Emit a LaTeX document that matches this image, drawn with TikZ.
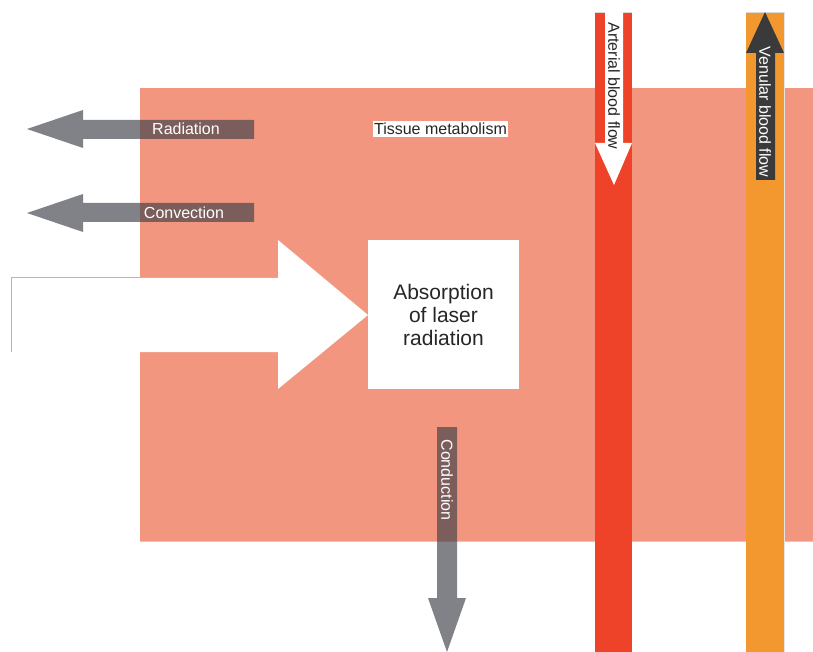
\documentclass[tikz,border=0pt]{standalone}
\usepackage{fontspec}
\setmainfont{Liberation Sans}
\definecolor{tissue}{RGB}{243,150,128}
\definecolor{artred}{RGB}{238,67,40}
\definecolor{venorange}{RGB}{242,152,46}
\definecolor{heatgray}{RGB}{62,66,73}
\definecolor{darkarrow}{RGB}{58,58,58}
\definecolor{edgeblue}{RGB}{170,185,210}
\begin{document}
\begin{tikzpicture}[x=1pt,y=-1pt,
  heat/.style={fill=heatgray,fill opacity=0.66,draw=none},
  lbl/.style={font=\fontsize{16}{18}\selectfont,inner sep=0pt},
  bar/.style={draw=black!15,line width=0.5pt}]
\useasboundingbox (0,0) rectangle (813,652);
% tissue
\fill[tissue] (140,88) rectangle (813,541);
\draw[edgeblue!70,line width=0.5pt] (140,541) -- (813,541);
% big laser arrow
\fill[white] (11,277) -- (278,277) -- (278,240) -- (368,315) -- (278,389) -- (278,352) -- (11,352) -- cycle;
\draw[edgeblue,line width=0.5pt] (11,352) -- (11,277) -- (278,277);
% absorption box
\node[fill=white,minimum width=151pt,minimum height=149pt,inner sep=0pt,anchor=north west] (box) at (368,240) {};
\node[font=\fontsize{21}{23}\selectfont,align=center,text=black!85] (abs) at (443.5,315) {Absorption\\of laser\\radiation};
% tissue metabolism
\node[lbl,fill=white,inner xsep=1pt,inner ysep=2pt,text=black!85] (tm) at (440.5,129) {Tissue metabolism};
% radiation
\fill[heat] (254,120) -- (83,120) -- (83,110) -- (27,129) -- (83,148) -- (83,139) -- (254,139) -- cycle;
\node[lbl,text=white] (rad) at (186,129) {Radiation};
% convection
\fill[heat] (254,203) -- (83,203) -- (83,194) -- (27,213) -- (83,232) -- (83,222) -- (254,222) -- cycle;
\node[lbl,text=white] (conv) at (184,213) {Convection};
% conduction
\fill[heat] (437,427) -- (457,427) -- (457,598) -- (466,598) -- (447,652) -- (428,598) -- (437,598) -- cycle;
\node[lbl,text=white,rotate=-90] (cond) at (447,480) {Conduction};
% arterial
\fill[artred] (595,12) rectangle (632,652);
\draw[bar] (595,12) -- (632,12);
\fill[white] (605,12) -- (623,12) -- (623,143) -- (632,143) -- (614,185) -- (595,143) -- (605,143) -- cycle;
\node[lbl,text=black!85,rotate=-90] (art) at (614,86) {Arterial blood flow};
% venular
\fill[venorange] (746,12) rectangle (784,652);
\draw[bar] (746,12) -- (784,12);
\draw[black!10,line width=0.4pt] (784,12) -- (784,652);
\fill[darkarrow] (765,12) -- (784,53) -- (775,53) -- (775,180) -- (756,180) -- (756,53) -- (746,53) -- cycle;
\node[lbl,text=white,rotate=-90] (ven) at (765,112) {Venular blood flow};
\end{tikzpicture}
\end{document}
